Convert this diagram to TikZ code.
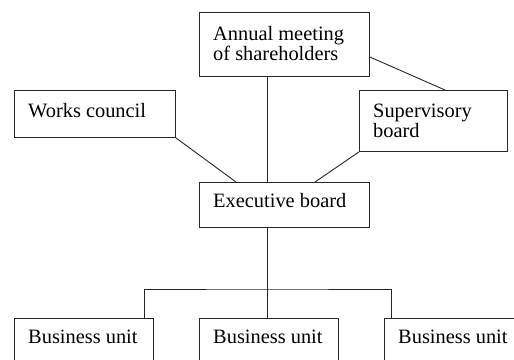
\documentclass[tikz,border=0pt]{standalone}
\usepackage{fontspec}
\setmainfont{Liberation Serif}
\usetikzlibrary{calc}
\begin{document}
\begin{tikzpicture}[x=1pt,y=-1pt,
  box/.style={draw=black!85,line width=0.9pt,inner sep=0pt,anchor=north west},
  lbl/.style={inner sep=0pt,anchor=base west,align=left,font=\fontsize{20.4}{20}\selectfont},
  conn/.style={draw=black!85,line width=0.9pt}]
\clip (0,0) rectangle (514,359);
\fill[white] (0,0) rectangle (514,359);
% boxes
\node[box,minimum width=170pt,minimum height=64pt] (am) at (199,12) {};
\node[box,minimum width=161pt,minimum height=47pt] (wc) at (14,90) {};
\node[box,minimum width=148pt,minimum height=61pt] (sb) at (359,90) {};
\node[box,minimum width=170pt,minimum height=45pt] (eb) at (199,182) {};
\node[box,minimum width=139pt,minimum height=60pt] (b1) at (14,318) {};
\node[box,minimum width=139pt,minimum height=60pt] (b2) at (199,318) {};
\node[box,minimum width=139pt,minimum height=60pt] (b3) at (384,318) {};
% texts (base anchor = baseline of the last line)
\node[lbl] (tam) at (213,60) {Annual meeting\\of shareholders};
\node[lbl] (twc) at (28,117) {Works council};
\node[lbl] (tsb) at (373,137) {Supervisory\\board};
\node[lbl] (teb) at (213,207) {Executive board};
\node[lbl] (tb1) at (28,343) {Business unit};
\node[lbl] (tb2) at (213,343) {Business unit};
\node[lbl] (tb3) at (398,343) {Business unit};
% connectors
\coordinate (jn) at (267,289);
\draw[conn] ($(am.south west)+(68,0)$) -- ($(eb.north west)+(68,0)$);
\draw[conn] (wc.south east) -- ($(eb.north west)+(37,0)$);
\draw[conn] (sb.south west) -- ($(eb.north west)+(116,0)$);
\draw[conn] ($(am.north east)+(0,45)$) -- ($(sb.north west)+(86,0)$);
\draw[conn] ($(eb.south west)+(68,0)$) -- ($(b2.north west)+(68,0)$);
\draw[conn] ($(b1.north west)+(130,0)$) |- (jn) -| ($(b3.north west)+(7,0)$);
\end{tikzpicture}
\end{document}
